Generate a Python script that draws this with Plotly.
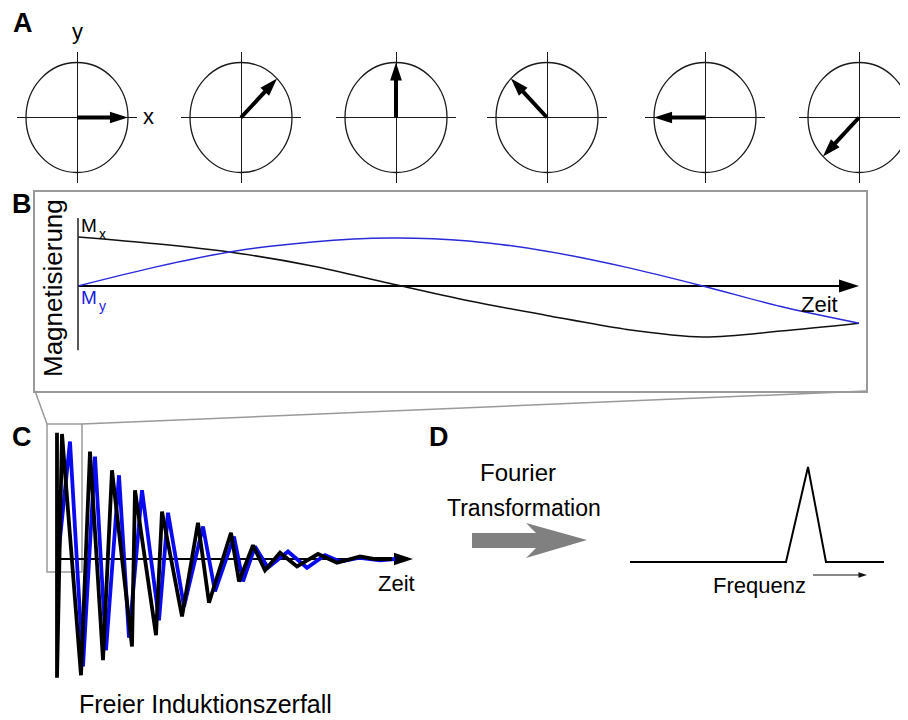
import math
import plotly.graph_objects as go

# ---------------- data ----------------
# Panel A: rotation angle of the transverse magnetisation in each frame (deg)
phase_deg = [0, 45, 90, 135, 180, 225]

# Panel B: Mx / My versus time (time in frame steps)
b_time = [0, 0.5, 1, 1.5, 2, 2.5, 3, 3.5, 4, 4.5, 5]
b_mx = [1.0, 0.86, 0.68, 0.41, 0.05, -0.30, -0.60, -0.88, -1.04, -0.92, -0.76]
b_my = [0.0, 0.39, 0.71, 0.90, 0.98, 0.92, 0.71, 0.39, 0.0, -0.42, -0.76]

# Panel C: free induction decay (time, amplitude)
fid_x_t = [0, 0, 0.5, 2.4, 3.3, 4.6, 5.5, 7.5, 7.8, 9.9, 10.5, 12.5, 14.1, 15.2,
           17.4, 18.2, 19.6, 20.8, 22.3, 24.0, 26.1, 28.0, 30.3, 31.8, 33.5]
fid_x_a = [1.01, -0.95, 1.0, -0.93, 0.86, -0.81, 0.71, -0.70, 0.55, -0.61, 0.38,
           -0.46, 0.29, -0.35, 0.21, -0.18, 0.11, -0.09, 0.05, -0.06, 0.04, -0.03,
           0.02, 0.0, 0.0]
fid_y_t = [0.1, 1.3, 2.6, 3.8, 4.9, 6.2, 7.2, 8.5, 10.2, 11.1, 12.7, 14.6, 15.8,
           17.7, 18.6, 19.8, 21.1, 23.1, 25.0, 26.8, 28.3, 30.3, 32.3, 33.8]
fid_y_a = [0.01, 0.94, -0.86, 0.82, -0.73, 0.67, -0.63, 0.55, -0.49, 0.37, -0.38,
           0.26, -0.26, 0.18, -0.18, 0.10, -0.07, 0.06, -0.07, 0.03, -0.02, 0.01,
           -0.01, 0.0]

# Panel D: spectrum
spec_f = [0, 15.6, 17.8, 19.6, 25.4]
spec_a = [0, 0, 1, 0, 0]

# ---------------- layout helpers ----------------
# the page body has an 8 px margin, so the figure is placed 8 px in
OFF = 8
FW, FH = 900, 712
VIEW_W = 908


def PX(x):
    return (x - OFF) / FW


def PY(y):
    return 1 - (y - OFF) / FH


FONT = "Liberation Sans, Arial, sans-serif"
BLACK = "#111111"
BLUE_B = "#2a2ad8"
BLUE_C = "#0a0af0"

layout = dict(
    width=FW, height=FH, margin=dict(l=0, r=0, t=0, b=0),
    paper_bgcolor="white", plot_bgcolor="rgba(0,0,0,0)",
    showlegend=False, shapes=[], annotations=[],
)
traces = []


def axname(n):
    return ("xaxis", "yaxis") if n == 1 else (f"xaxis{n}", f"yaxis{n}")


def ref(n):
    return ("x", "y") if n == 1 else (f"x{n}", f"y{n}")


def add_axes(n, xpx, ypx, xr, yr, zeroline=False, box=False):
    xa, ya = axname(n)
    xr_, yr_ = ref(n)
    common = dict(showgrid=False, showticklabels=False, ticks="", zeroline=zeroline,
                  zerolinecolor="#1a1a1a", zerolinewidth=1.3, fixedrange=True)
    if box:
        common.update(showline=True, mirror=True, linecolor="#9a9a9a", linewidth=2)
    else:
        common.update(showline=False)
    layout[xa] = dict(domain=[max(0.0, PX(xpx[0])), min(1.0, PX(xpx[1]))], range=xr,
                      anchor=yr_, **common)
    layout[ya] = dict(domain=[max(0.0, PY(ypx[1])), min(1.0, PY(ypx[0]))], range=yr,
                      anchor=xr_, **common)
    return xr_, yr_


def arrow_trace(xs, ys, xa, ya, width, head, color="black"):
    return go.Scatter(
        x=xs, y=ys, xaxis=xa, yaxis=ya, mode="lines+markers",
        line=dict(color=color, width=width),
        marker=dict(symbol=["circle", "arrow"], size=[0, head], color=color,
                    opacity=1, angleref="previous", line=dict(width=0)),
        hoverinfo="skip")


# ---------------- Panel A: rotating vectors ----------------
circle_cx = [77, 241, 396, 547, 705, 859]
circle_cy = 117.5
rx, ry = 51.0, 55.0      # pixels per unit radius
hx, hy = 60.0, 65.5      # half length of crosshair
for k, ang in enumerate(phase_deg):
    n = k + 1
    cx = circle_cx[k]
    right = min(cx + hx, VIEW_W)
    xr_, yr_ = add_axes(n, (cx - hx, right), (circle_cy - hy, circle_cy + hy),
                        [-hx / rx, (right - cx) / rx], [-hy / ry, hy / ry],
                        zeroline=True)
    layout["shapes"].append(dict(type="circle", xref=xr_, yref=yr_, x0=-1, x1=1,
                                 y0=-1, y1=1, line=dict(color="#1a1a1a", width=1.3)))
    a = math.radians(ang)
    traces.append(arrow_trace([0, math.cos(a)], [0, math.sin(a)], xr_, yr_, 4, 19))

# ---------------- Panel B: Mx, My ----------------
b0x, b_ppu = 78.0, 156.2
b0y, b_ppa = 286.0, 49.0
bx, by = add_axes(7, (35, 866), (192, 391),
                  [(35 - b0x) / b_ppu, (866 - b0x) / b_ppu],
                  [(b0y - 391) / b_ppa, (b0y - 192) / b_ppa], box=True)
layout["shapes"].append(dict(type="line", xref=bx, yref=by, x0=0, x1=0,
                             y0=1.39, y1=-1.31, line=dict(color="#222", width=1.5)))
traces.append(arrow_trace([b_time[0], b_time[-1]], [0, 0], bx, by, 2, 21))
traces.append(go.Scatter(x=b_time, y=b_mx, xaxis=bx, yaxis=by, mode="lines",
                         line=dict(color=BLACK, width=1.5, shape="spline",
                                   smoothing=0.9),
                         hoverinfo="skip"))
traces.append(go.Scatter(x=b_time, y=b_my, xaxis=bx, yaxis=by, mode="lines",
                         line=dict(color=BLUE_B, width=1.5, shape="spline",
                                   smoothing=0.9),
                         hoverinfo="skip"))

# ---------------- Panel C: FID ----------------
c0x, c_ppu = 57.0, 10.0
c0y, c_ppa = 559.0, 125.0
cx_, cy_ = add_axes(8, (40, 420), (420, 695),
                    [(40 - c0x) / c_ppu, (420 - c0x) / c_ppu],
                    [(c0y - 695) / c_ppa, (c0y - 420) / c_ppa])
traces.append(arrow_trace([0, (413 - c0x) / c_ppu], [0, 0], cx_, cy_, 2, 20))
traces.append(go.Scatter(x=fid_y_t, y=fid_y_a, xaxis=cx_, yaxis=cy_, mode="lines",
                         line=dict(color=BLUE_C, width=3.8), hoverinfo="skip"))
traces.append(go.Scatter(x=fid_x_t, y=fid_x_a, xaxis=cx_, yaxis=cy_, mode="lines",
                         line=dict(color="black", width=3.8), hoverinfo="skip"))

# ---------------- Panel D: spectrum ----------------
d0x, d_ppu = 630.0, 10.0
d0y, d_ppa = 562.0, 95.0
dx_, dy_ = add_axes(9, (620, 900), (455, 580),
                    [(620 - d0x) / d_ppu, (900 - d0x) / d_ppu],
                    [(d0y - 580) / d_ppa, (d0y - 455) / d_ppa])
traces.append(go.Scatter(x=spec_f, y=spec_a, xaxis=dx_, yaxis=dy_, mode="lines",
                         line=dict(color="black", width=2), hoverinfo="skip"))
# small "increasing frequency" arrow below the axis
fy = (d0y - 575) / d_ppa
traces.append(arrow_trace([(813 - d0x) / d_ppu, (867 - d0x) / d_ppu], [fy, fy],
                          dx_, dy_, 1, 9, color="#111"))

# ---------------- decorations ----------------
gray = "#9a9a9a"
layout["shapes"] += [
    dict(type="rect", xref="paper", yref="paper", x0=PX(47), x1=PX(82),
         y0=PY(572), y1=PY(424), line=dict(color=gray, width=1.5), layer="below"),
    dict(type="line", xref="paper", yref="paper", x0=PX(35), y0=PY(391),
         x1=PX(47), y1=PY(424), line=dict(color=gray, width=1.5)),
    dict(type="line", xref="paper", yref="paper", x0=PX(866), y0=PY(391),
         x1=PX(82), y1=PY(424), line=dict(color=gray, width=1.5)),
]
arrow_px = [(472, 533), (536, 533), (526, 523), (587, 540), (526, 558),
            (536, 548), (472, 548)]
path = "M " + " L ".join(f"{PX(x):.5f},{PY(y):.5f}" for x, y in arrow_px) + " Z"
layout["shapes"].append(dict(type="path", xref="paper", yref="paper", path=path,
                             fillcolor="#808080", line=dict(width=0)))


def label(text, x, y, size, color="black", bold=False, angle=0, xanchor="center"):
    layout["annotations"].append(dict(
        xref="paper", yref="paper", x=PX(x), y=PY(y), text=text, showarrow=False,
        xanchor=xanchor, yanchor="middle", textangle=angle,
        font=dict(family=FONT, size=size, color=color,
                  weight="bold" if bold else "normal")))


MY_BLUE = "#1a1ae0"
label("A", 23, 23, 27, bold=True)
label("B", 22, 204, 27, bold=True)
label("C", 22, 437, 27, bold=True)
label("D", 439, 437, 27, bold=True)
label("y", 77, 32, 22)
label("x", 148, 117, 22)
label("Magnetisierung", 53, 288, 26, angle=-90)
label("M", 79, 225, 19, xanchor="left")
label("x", 97, 234, 14, xanchor="left")
label("M", 79, 298, 19, color=MY_BLUE, xanchor="left")
label("y", 97, 306, 14, color=MY_BLUE, xanchor="left")
label("Zeit", 819, 304, 22)
label("Zeit", 396, 583, 22)
label("Freier Induktionszerfall", 205, 704, 25)
label("Fourier", 518, 472, 24)
label("Transformation", 524, 508, 23)
label("Frequenz", 759, 585, 22)

fig = go.Figure(data=traces, layout=layout)
fig.write_html("out.html")
